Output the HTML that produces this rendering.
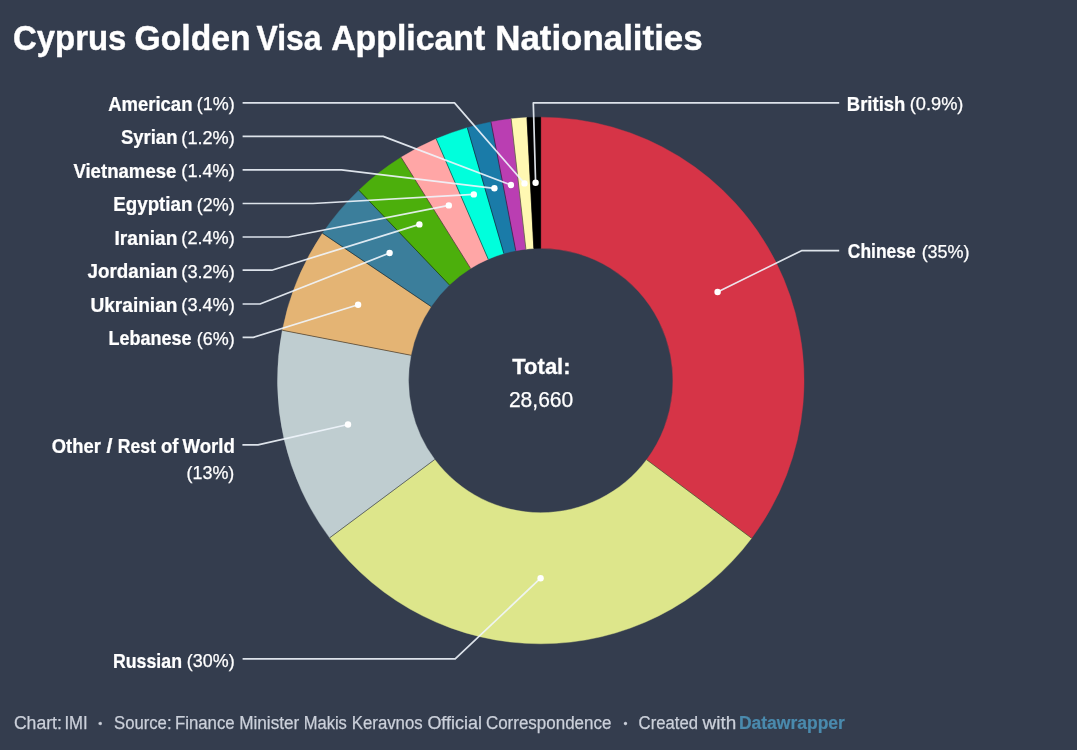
<!DOCTYPE html>
<html lang="en"><head><meta charset="utf-8"><title>Cyprus Golden Visa Applicant Nationalities</title>
<style>
html,body{margin:0;padding:0;background:#343d4e;}
body{width:1077px;height:750px;overflow:hidden;font-family:"Liberation Sans", Arial, Helvetica, sans-serif;}
svg{display:block;}
text{font-family:"Liberation Sans", Arial, Helvetica, sans-serif;}
</style></head><body>
<svg width="1077" height="750" viewBox="0 0 1077 750">
<rect width="1077" height="750" fill="#343d4e"/>

<g stroke-linejoin="round">
<path d="M540.75,117.20A263.3,263.3 0 0 1 751.58,538.22L646.61,459.69A132.2,132.2 0 0 0 540.75,248.30Z" fill="#d63447" stroke="#d63447" stroke-width="0.4"/>
<path d="M751.58,538.22A263.3,263.3 0 0 1 329.64,537.85L434.76,459.51A132.2,132.2 0 0 0 646.61,459.69Z" fill="#dde68b" stroke="#dde68b" stroke-width="0.4"/>
<path d="M329.64,537.85A263.3,263.3 0 0 1 282.29,330.26L410.98,355.28A132.2,132.2 0 0 0 434.76,459.51Z" fill="#bfcdd0" stroke="#bfcdd0" stroke-width="0.4"/>
<path d="M282.29,330.26A263.3,263.3 0 0 1 322.46,233.26L431.15,306.57A132.2,132.2 0 0 0 410.98,355.28Z" fill="#e4b474" stroke="#e4b474" stroke-width="0.4"/>
<path d="M322.46,233.26A263.3,263.3 0 0 1 358.84,190.14L449.42,284.92A132.2,132.2 0 0 0 431.15,306.57Z" fill="#3b7e9b" stroke="#3b7e9b" stroke-width="0.4"/>
<path d="M358.84,190.14A263.3,263.3 0 0 1 401.07,157.31L470.62,268.44A132.2,132.2 0 0 0 449.42,284.92Z" fill="#4caf0c" stroke="#4caf0c" stroke-width="0.4"/>
<path d="M401.07,157.31A263.3,263.3 0 0 1 436.18,138.86L488.25,259.17A132.2,132.2 0 0 0 470.62,268.44Z" fill="#ffa6a6" stroke="#ffa6a6" stroke-width="0.4"/>
<path d="M436.18,138.86A263.3,263.3 0 0 1 467.29,127.65L503.87,253.55A132.2,132.2 0 0 0 488.25,259.17Z" fill="#00ffdc" stroke="#00ffdc" stroke-width="0.4"/>
<path d="M467.29,127.65A263.3,263.3 0 0 1 490.96,121.95L515.75,250.69A132.2,132.2 0 0 0 503.87,253.55Z" fill="#1a7ba8" stroke="#1a7ba8" stroke-width="0.4"/>
<path d="M490.96,121.95A263.3,263.3 0 0 1 511.17,118.87L525.90,249.14A132.2,132.2 0 0 0 515.75,250.69Z" fill="#ba3eb2" stroke="#ba3eb2" stroke-width="0.4"/>
<path d="M511.17,118.87A263.3,263.3 0 0 1 526.97,117.56L533.83,248.48A132.2,132.2 0 0 0 525.90,249.14Z" fill="#fff8b2" stroke="#fff8b2" stroke-width="0.4"/>
<path d="M526.97,117.56A263.3,263.3 0 0 1 540.75,117.20L540.75,248.30A132.2,132.2 0 0 0 533.83,248.48Z" fill="#000000" stroke="#000000" stroke-width="0.4"/>
</g>
<g stroke="#000" stroke-opacity="0.55" stroke-width="0.85">
<line x1="751.58" y1="538.22" x2="646.61" y2="459.69"/>
<line x1="329.64" y1="537.85" x2="434.76" y2="459.51"/>
<line x1="282.29" y1="330.26" x2="410.98" y2="355.28"/>
<line x1="322.46" y1="233.26" x2="431.15" y2="306.57"/>
<line x1="358.84" y1="190.14" x2="449.42" y2="284.92"/>
<line x1="401.07" y1="157.31" x2="470.62" y2="268.44"/>
<line x1="436.18" y1="138.86" x2="488.25" y2="259.17"/>
<line x1="467.29" y1="127.65" x2="503.87" y2="253.55"/>
<line x1="490.96" y1="121.95" x2="515.75" y2="250.69"/>
<line x1="511.17" y1="118.87" x2="525.90" y2="249.14"/>
<line x1="526.97" y1="117.56" x2="533.83" y2="248.48"/>
</g>
<g fill="none" stroke="#f0f5fc" stroke-opacity="0.9" stroke-width="1.7" stroke-linejoin="round">
<polyline points="839.2,250.7 801.5,250.7 717.6,292.0"/>
<polyline points="242.6,658.9 455.2,658.9 540.6,578.2"/>
<polyline points="242.4,444.9 258.0,444.9 348.0,424.5"/>
<polyline points="242.6,337.4 253.3,337.4 358.1,304.8"/>
<polyline points="242.6,304.0 260.0,304.0 389.6,253.0"/>
<polyline points="242.6,270.2 271.8,270.2 419.4,224.4"/>
<polyline points="242.6,237.0 288.5,237.0 448.8,205.4"/>
<polyline points="242.6,203.5 313.0,203.5 473.8,194.4"/>
<polyline points="242.6,169.9 341.5,169.9 494.4,188.3"/>
<polyline points="242.6,136.4 383.2,136.4 510.9,185.0"/>
<polyline points="242.6,102.9 454.5,102.9 524.5,183.4"/>
<polyline points="839.2,102.9 533.3,102.9 535.6,182.8"/>
</g><g fill="#ffffff">
<circle cx="717.6" cy="292.0" r="3.2"/>
<circle cx="540.6" cy="578.2" r="3.2"/>
<circle cx="348.0" cy="424.5" r="3.2"/>
<circle cx="358.1" cy="304.8" r="3.2"/>
<circle cx="389.6" cy="253.0" r="3.2"/>
<circle cx="419.4" cy="224.4" r="3.2"/>
<circle cx="448.8" cy="205.4" r="3.2"/>
<circle cx="473.8" cy="194.4" r="3.2"/>
<circle cx="494.4" cy="188.3" r="3.2"/>
<circle cx="510.9" cy="185.0" r="3.2"/>
<circle cx="524.5" cy="183.4" r="3.2"/>
<circle cx="535.6" cy="182.8" r="3.2"/>
</g>
<text><tspan x="13.05" y="49.7" font-size="34.5" font-weight="700" fill="#ffffff" stroke="#ffffff" stroke-width="0.41" textLength="113.39" lengthAdjust="spacingAndGlyphs">Cyprus</tspan> <tspan x="134.62" y="49.7" font-size="34.5" font-weight="700" fill="#ffffff" stroke="#ffffff" stroke-width="0.41" textLength="116.00" lengthAdjust="spacingAndGlyphs">Golden</tspan> <tspan x="256.50" y="49.7" font-size="34.5" font-weight="700" fill="#ffffff" stroke="#ffffff" stroke-width="0.41" textLength="65.05" lengthAdjust="spacingAndGlyphs">Visa</tspan> <tspan x="331.20" y="49.7" font-size="34.5" font-weight="700" fill="#ffffff" stroke="#ffffff" stroke-width="0.41" textLength="154.10" lengthAdjust="spacingAndGlyphs">Applicant</tspan> <tspan x="495.18" y="49.7" font-size="34.5" font-weight="700" fill="#ffffff" stroke="#ffffff" stroke-width="0.41" textLength="207.52" lengthAdjust="spacingAndGlyphs">Nationalities</tspan></text>
<text><tspan x="108.20" y="110.6" font-size="19.3" font-weight="700" fill="#ffffff" stroke="#ffffff" stroke-width="0.23" textLength="84.25" lengthAdjust="spacingAndGlyphs">American</tspan></text>
<text><tspan x="196.84" y="110.0" font-size="18.7" font-weight="400" fill="#ffffff" stroke="#ffffff" stroke-width="0.25" textLength="37.98" lengthAdjust="spacingAndGlyphs">(1%)</tspan></text>
<text><tspan x="120.90" y="144.2" font-size="19.3" font-weight="700" fill="#ffffff" stroke="#ffffff" stroke-width="0.23" textLength="56.55" lengthAdjust="spacingAndGlyphs">Syrian</tspan> <tspan x="181.33" y="143.6" font-size="18.7" font-weight="400" fill="#ffffff" stroke="#ffffff" stroke-width="0.25" textLength="53.49" lengthAdjust="spacingAndGlyphs">(1.2%)</tspan></text>
<text><tspan x="73.40" y="177.7" font-size="19.3" font-weight="700" fill="#ffffff" stroke="#ffffff" stroke-width="0.23" textLength="103.03" lengthAdjust="spacingAndGlyphs">Vietnamese</tspan></text>
<text><tspan x="181.33" y="177.1" font-size="18.7" font-weight="400" fill="#ffffff" stroke="#ffffff" stroke-width="0.25" textLength="53.49" lengthAdjust="spacingAndGlyphs">(1.4%)</tspan></text>
<text><tspan x="113.23" y="211.3" font-size="19.3" font-weight="700" fill="#ffffff" stroke="#ffffff" stroke-width="0.23" textLength="79.23" lengthAdjust="spacingAndGlyphs">Egyptian</tspan> <tspan x="196.84" y="210.7" font-size="18.7" font-weight="400" fill="#ffffff" stroke="#ffffff" stroke-width="0.25" textLength="37.98" lengthAdjust="spacingAndGlyphs">(2%)</tspan></text>
<text><tspan x="114.50" y="244.8" font-size="19.3" font-weight="700" fill="#ffffff" stroke="#ffffff" stroke-width="0.23" textLength="62.97" lengthAdjust="spacingAndGlyphs">Iranian</tspan></text>
<text><tspan x="181.33" y="244.2" font-size="18.7" font-weight="400" fill="#ffffff" stroke="#ffffff" stroke-width="0.25" textLength="53.49" lengthAdjust="spacingAndGlyphs">(2.4%)</tspan></text>
<text><tspan x="87.60" y="278.4" font-size="19.3" font-weight="700" fill="#ffffff" stroke="#ffffff" stroke-width="0.23" textLength="89.86" lengthAdjust="spacingAndGlyphs">Jordanian</tspan> <tspan x="181.33" y="277.8" font-size="18.7" font-weight="400" fill="#ffffff" stroke="#ffffff" stroke-width="0.25" textLength="53.49" lengthAdjust="spacingAndGlyphs">(3.2%)</tspan></text>
<text><tspan x="90.41" y="311.8" font-size="19.3" font-weight="700" fill="#ffffff" stroke="#ffffff" stroke-width="0.23" textLength="87.06" lengthAdjust="spacingAndGlyphs">Ukrainian</tspan></text>
<text><tspan x="181.33" y="311.2" font-size="18.7" font-weight="400" fill="#ffffff" stroke="#ffffff" stroke-width="0.25" textLength="53.49" lengthAdjust="spacingAndGlyphs">(3.4%)</tspan></text>
<text><tspan x="108.57" y="345.2" font-size="19.3" font-weight="700" fill="#ffffff" stroke="#ffffff" stroke-width="0.23" textLength="82.87" lengthAdjust="spacingAndGlyphs">Lebanese</tspan> <tspan x="196.84" y="344.6" font-size="18.7" font-weight="400" fill="#ffffff" stroke="#ffffff" stroke-width="0.25" textLength="37.98" lengthAdjust="spacingAndGlyphs">(6%)</tspan></text>
<text><tspan x="112.98" y="667.8" font-size="19.3" font-weight="700" fill="#ffffff" stroke="#ffffff" stroke-width="0.23" textLength="69.04" lengthAdjust="spacingAndGlyphs">Russian</tspan></text>
<text><tspan x="186.84" y="667.2" font-size="18.7" font-weight="400" fill="#ffffff" stroke="#ffffff" stroke-width="0.25" textLength="47.77" lengthAdjust="spacingAndGlyphs">(30%)</tspan></text>
<text><tspan x="846.84" y="110.6" font-size="19.3" font-weight="700" fill="#ffffff" stroke="#ffffff" stroke-width="0.23" textLength="58.50" lengthAdjust="spacingAndGlyphs">British</tspan></text>
<text><tspan x="909.72" y="110.0" font-size="18.7" font-weight="400" fill="#ffffff" stroke="#ffffff" stroke-width="0.25" textLength="53.69" lengthAdjust="spacingAndGlyphs">(0.9%)</tspan></text>
<text><tspan x="847.80" y="258.3" font-size="19.3" font-weight="700" fill="#ffffff" stroke="#ffffff" stroke-width="0.23" textLength="67.85" lengthAdjust="spacingAndGlyphs">Chinese</tspan> <tspan x="921.64" y="257.7" font-size="18.7" font-weight="400" fill="#ffffff" stroke="#ffffff" stroke-width="0.25" textLength="47.98" lengthAdjust="spacingAndGlyphs">(35%)</tspan></text>
<text><tspan x="51.80" y="452.7" font-size="19.3" font-weight="700" fill="#ffffff" stroke="#ffffff" stroke-width="0.23" textLength="49.03" lengthAdjust="spacingAndGlyphs">Other</tspan> <tspan x="106.40" y="452.7" font-size="19.3" font-weight="700" fill="#ffffff" stroke="#ffffff" stroke-width="0.23" textLength="5.98" lengthAdjust="spacingAndGlyphs">/</tspan> <tspan x="117.79" y="452.7" font-size="19.3" font-weight="700" fill="#ffffff" stroke="#ffffff" stroke-width="0.23" textLength="38.08" lengthAdjust="spacingAndGlyphs">Rest</tspan> <tspan x="160.90" y="452.7" font-size="19.3" font-weight="700" fill="#ffffff" stroke="#ffffff" stroke-width="0.23" textLength="17.44" lengthAdjust="spacingAndGlyphs">of</tspan> <tspan x="182.40" y="452.7" font-size="19.3" font-weight="700" fill="#ffffff" stroke="#ffffff" stroke-width="0.23" textLength="52.45" lengthAdjust="spacingAndGlyphs">World</tspan> <tspan x="186.54" y="478.7" font-size="18.7" font-weight="400" fill="#ffffff" stroke="#ffffff" stroke-width="0.25" textLength="47.77" lengthAdjust="spacingAndGlyphs">(13%)</tspan></text>
<text><tspan x="512.30" y="374.0" font-size="22.6" font-weight="700" fill="#ffffff" stroke="#ffffff" stroke-width="0.27" textLength="58.28" lengthAdjust="spacingAndGlyphs">Total:</tspan></text>
<text><tspan x="508.91" y="407.1" font-size="21.2" font-weight="400" fill="#ffffff" stroke="#ffffff" stroke-width="0.25" textLength="64.37" lengthAdjust="spacingAndGlyphs">28,660</tspan></text>
<text><tspan x="13.90" y="728.9" font-size="18" font-weight="400" fill="#cbd0da" stroke="#cbd0da" stroke-width="0.25" textLength="47.98" lengthAdjust="spacingAndGlyphs">Chart:</tspan> <tspan x="64.47" y="728.9" font-size="18" font-weight="400" fill="#cbd0da" stroke="#cbd0da" stroke-width="0.25" textLength="23.26" lengthAdjust="spacingAndGlyphs">IMI</tspan> <tspan x="98.20" y="727.3" font-size="11.4" font-weight="400" fill="#cbd0da" stroke="#cbd0da" stroke-width="0.25" textLength="3.99" lengthAdjust="spacingAndGlyphs">•</tspan> <tspan x="114.00" y="728.9" font-size="18" font-weight="400" fill="#cbd0da" stroke="#cbd0da" stroke-width="0.25" textLength="57.53" lengthAdjust="spacingAndGlyphs">Source:</tspan> <tspan x="174.97" y="728.9" font-size="18" font-weight="400" fill="#cbd0da" stroke="#cbd0da" stroke-width="0.25" textLength="59.64" lengthAdjust="spacingAndGlyphs">Finance</tspan> <tspan x="239.15" y="728.9" font-size="18" font-weight="400" fill="#cbd0da" stroke="#cbd0da" stroke-width="0.25" textLength="60.15" lengthAdjust="spacingAndGlyphs">Minister</tspan> <tspan x="303.68" y="728.9" font-size="18" font-weight="400" fill="#cbd0da" stroke="#cbd0da" stroke-width="0.25" textLength="43.22" lengthAdjust="spacingAndGlyphs">Makis</tspan> <tspan x="351.77" y="728.9" font-size="18" font-weight="400" fill="#cbd0da" stroke="#cbd0da" stroke-width="0.25" textLength="70.93" lengthAdjust="spacingAndGlyphs">Keravnos</tspan> <tspan x="427.40" y="728.9" font-size="18" font-weight="400" fill="#cbd0da" stroke="#cbd0da" stroke-width="0.25" textLength="54.60" lengthAdjust="spacingAndGlyphs">Official</tspan> <tspan x="485.90" y="728.9" font-size="18" font-weight="400" fill="#cbd0da" stroke="#cbd0da" stroke-width="0.25" textLength="125.51" lengthAdjust="spacingAndGlyphs">Correspondence</tspan> <tspan x="623.40" y="727.3" font-size="11.4" font-weight="400" fill="#cbd0da" stroke="#cbd0da" stroke-width="0.25" textLength="3.99" lengthAdjust="spacingAndGlyphs">•</tspan> <tspan x="638.60" y="728.9" font-size="18" font-weight="400" fill="#cbd0da" stroke="#cbd0da" stroke-width="0.25" textLength="59.34" lengthAdjust="spacingAndGlyphs">Created</tspan> <tspan x="702.55" y="728.9" font-size="18" font-weight="400" fill="#cbd0da" stroke="#cbd0da" stroke-width="0.25" textLength="33.71" lengthAdjust="spacingAndGlyphs">with</tspan> <tspan x="738.93" y="728.9" font-size="18" font-weight="700" fill="#4a8aad" stroke="#4a8aad" stroke-width="0.22" textLength="105.98" lengthAdjust="spacingAndGlyphs">Datawrapper</tspan></text>
</svg></body></html>
